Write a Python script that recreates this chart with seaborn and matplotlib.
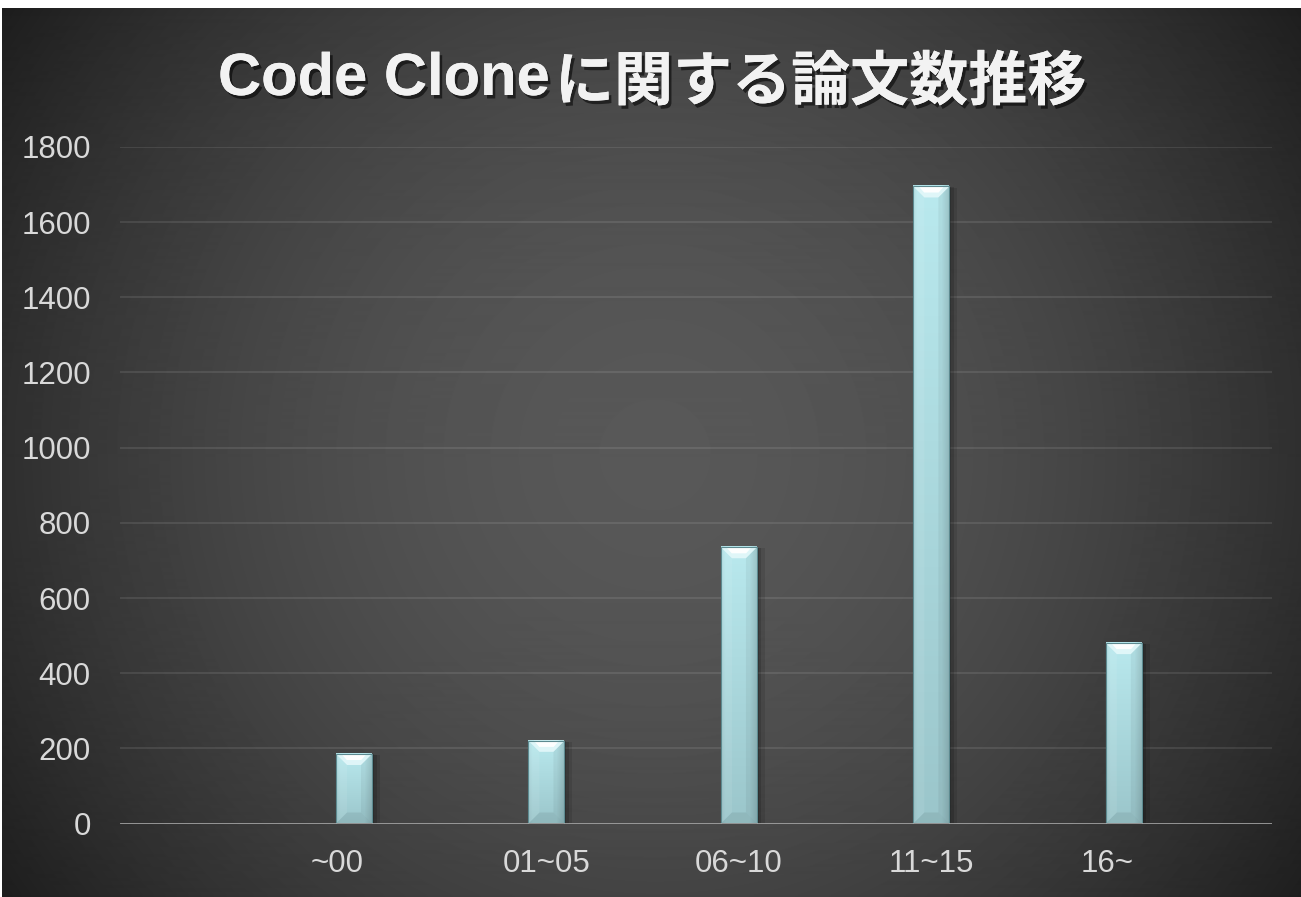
import numpy as np
import pandas as pd
import matplotlib
matplotlib.use("Agg")
import matplotlib.pyplot as plt
import matplotlib.patheffects as pe
from matplotlib.patches import Polygon, Rectangle
from matplotlib.transforms import ScaledTranslation
import seaborn as sns

# Paper counts per period
periods = ["~00", "01~05", "06~10", "11~15", "16~"]
papers = [185, 220, 735, 1695, 480]
y_ticks = [0, 200, 400, 600, 800, 1000, 1200, 1400, 1600, 1800]
title_latin = "Code Clone"
title_cjk = "に関する論文数推移"

W, H, DPI = 1301, 897, 100

sns.set_theme(style="dark")
plt.rcParams["font.family"] = ["Liberation Sans", "Noto Sans CJK JP", "DejaVu Sans"]

fig = plt.figure(figsize=(W / DPI, H / DPI), dpi=DPI)
fig.patch.set_facecolor("white")

# radial dark-grey backdrop
bg = fig.add_axes([2 / W, 0, 1 - 2 / W, 1 - 8 / H])
bg.set_axis_off()
yy, xx = np.mgrid[8:H, 2:W]
r = np.hypot(xx - 655, yy - 455)
g = 0x58 - (0x58 - 0x1d) * np.clip(r / 790, 0, 1) ** 1.8
g = np.round(g) / 255.0
bg.imshow(np.dstack([g, g, g]), aspect="auto", extent=[0, 1, 0, 1], origin="upper")
bg.set_xlim(0, 1)
bg.set_ylim(0, 1)

# plotting area
ax = fig.add_axes([120 / W, 73.5 / H, 1152 / W, 676.5 / H])
ax.set_facecolor("none")
df = pd.DataFrame({"period": periods, "papers": papers})
sns.barplot(data=df, x="period", y="papers", order=periods, color="#aad9de",
            width=0.187, saturation=1, ax=ax, zorder=3)

ax.set_xlim(-1.216, 4.77)
ax.set_ylim(0, 1800)
ax.set_yticks(y_ticks)
ax.set_yticklabels([str(v) for v in y_ticks])
ax.set_xlabel("")
ax.set_ylabel("")
for s in ax.spines.values():
    s.set_visible(False)
ax.grid(False)
for v in y_ticks[1:]:
    ax.axhline(v, color="white", alpha=0.10, lw=1.3, zorder=1)
ax.axhline(0, color="#a8a8a8", lw=1.9, zorder=5)

ax.tick_params(axis="y", length=0, pad=21, labelsize=22.5, labelcolor="#d9d9d9")
ax.tick_params(axis="x", length=0, pad=18, labelsize=22.5, labelcolor="#d9d9d9")
for lab in ax.get_xticklabels():
    if lab.get_text() in ("~00", "16~"):
        lab.set_transform(lab.get_transform() + ScaledTranslation(-17 / DPI, 0, fig.dpi_scale_trans))

# bevelled bar styling
dxp = (4.77 + 1.216) / 1152.0
dyp = 1800 / 676.5
for p in list(ax.patches):
    x0, w, h = p.get_x(), p.get_width(), p.get_height()
    p.set_visible(False)
    # soft shadow
    for k, a in ((6, 0.10), (3.5, 0.14), (1.5, 0.20)):
        ax.add_patch(Rectangle((x0 + k * dxp * 0.3, 0), w + k * dxp, h - k * dyp * 0.2,
                               color="black", alpha=a, lw=0, zorder=2))
    # body gradient
    ny, nx = 64, 36
    t = np.linspace(0, 1, ny)[:, None]
    s = np.linspace(0, 1, nx)[None, :]
    top_c = np.array([0xb9, 0xe9, 0xee]) / 255.0
    bot_c = np.array([0x9b, 0xc6, 0xcb]) / 255.0
    body = top_c[None, None, :] * (1 - t[..., None]) + bot_c[None, None, :] * t[..., None]
    shade = 1 - 0.10 * np.clip((s - 0.80) / 0.20, 0, 1) - 0.05 * np.clip((0.12 - s) / 0.12, 0, 1)
    body = body * shade[..., None]
    body = np.clip(body, 0, 1)
    ax.imshow(body, extent=[x0, x0 + w, 0, h], origin="upper", aspect="auto",
              zorder=3, interpolation="bilinear")
    b_x, b_y = 11 * dxp, 11 * dyp
    # top bevel: bright wedge fading into the face
    ax.add_patch(Polygon([(x0, h), (x0 + w, h), (x0 + w - b_x, h - b_y), (x0 + b_x, h - b_y)],
                         closed=True, color="#e4f8fa", lw=0, alpha=0.9, zorder=4))
    ax.add_patch(Polygon([(x0 + 0.15 * w, h), (x0 + 0.85 * w, h), (x0 + 0.7 * w, h - 0.55 * b_y),
                          (x0 + 0.3 * w, h - 0.55 * b_y)],
                         closed=True, color="white", lw=0, alpha=0.95, zorder=4))
    ax.add_patch(Polygon([(x0, h), (x0 + b_x, h - b_y), (x0 + b_x, b_y), (x0, 0)],
                         closed=True, color="white", lw=0, alpha=0.08, zorder=4))
    ax.add_patch(Polygon([(x0 + w, h), (x0 + w - b_x, h - b_y), (x0 + w - b_x, b_y), (x0 + w, 0)],
                         closed=True, color="black", lw=0, alpha=0.05, zorder=4))
    # bottom bevel
    ax.add_patch(Polygon([(x0, 0), (x0 + w, 0), (x0 + w - b_x, b_y), (x0 + b_x, b_y)],
                         closed=True, color="black", lw=0, alpha=0.07, zorder=4))
    # outline
    ax.add_patch(Rectangle((x0, 0), w, h, fill=False, ec="#5d8a90", lw=0.8, zorder=4))

# title
shadow = [pe.withSimplePatchShadow(offset=(2, -2.5), shadow_rgbFace="black", alpha=0.55), pe.Normal()]
fig.text(218 / W, 1 - 95 / H, title_latin, ha="left", va="baseline", fontsize=43,
         fontweight="bold", color="#f2f2f2", family=["Liberation Sans", "DejaVu Sans"],
         path_effects=shadow)
fig.text(555 / W, 1 - 100 / H, title_cjk, ha="left", va="baseline", fontsize=42.5,
         fontweight="bold", color="#f2f2f2", family=["Noto Sans CJK JP", "DejaVu Sans"],
         path_effects=shadow)

fig.savefig("out.png", dpi=DPI, facecolor=fig.get_facecolor())
